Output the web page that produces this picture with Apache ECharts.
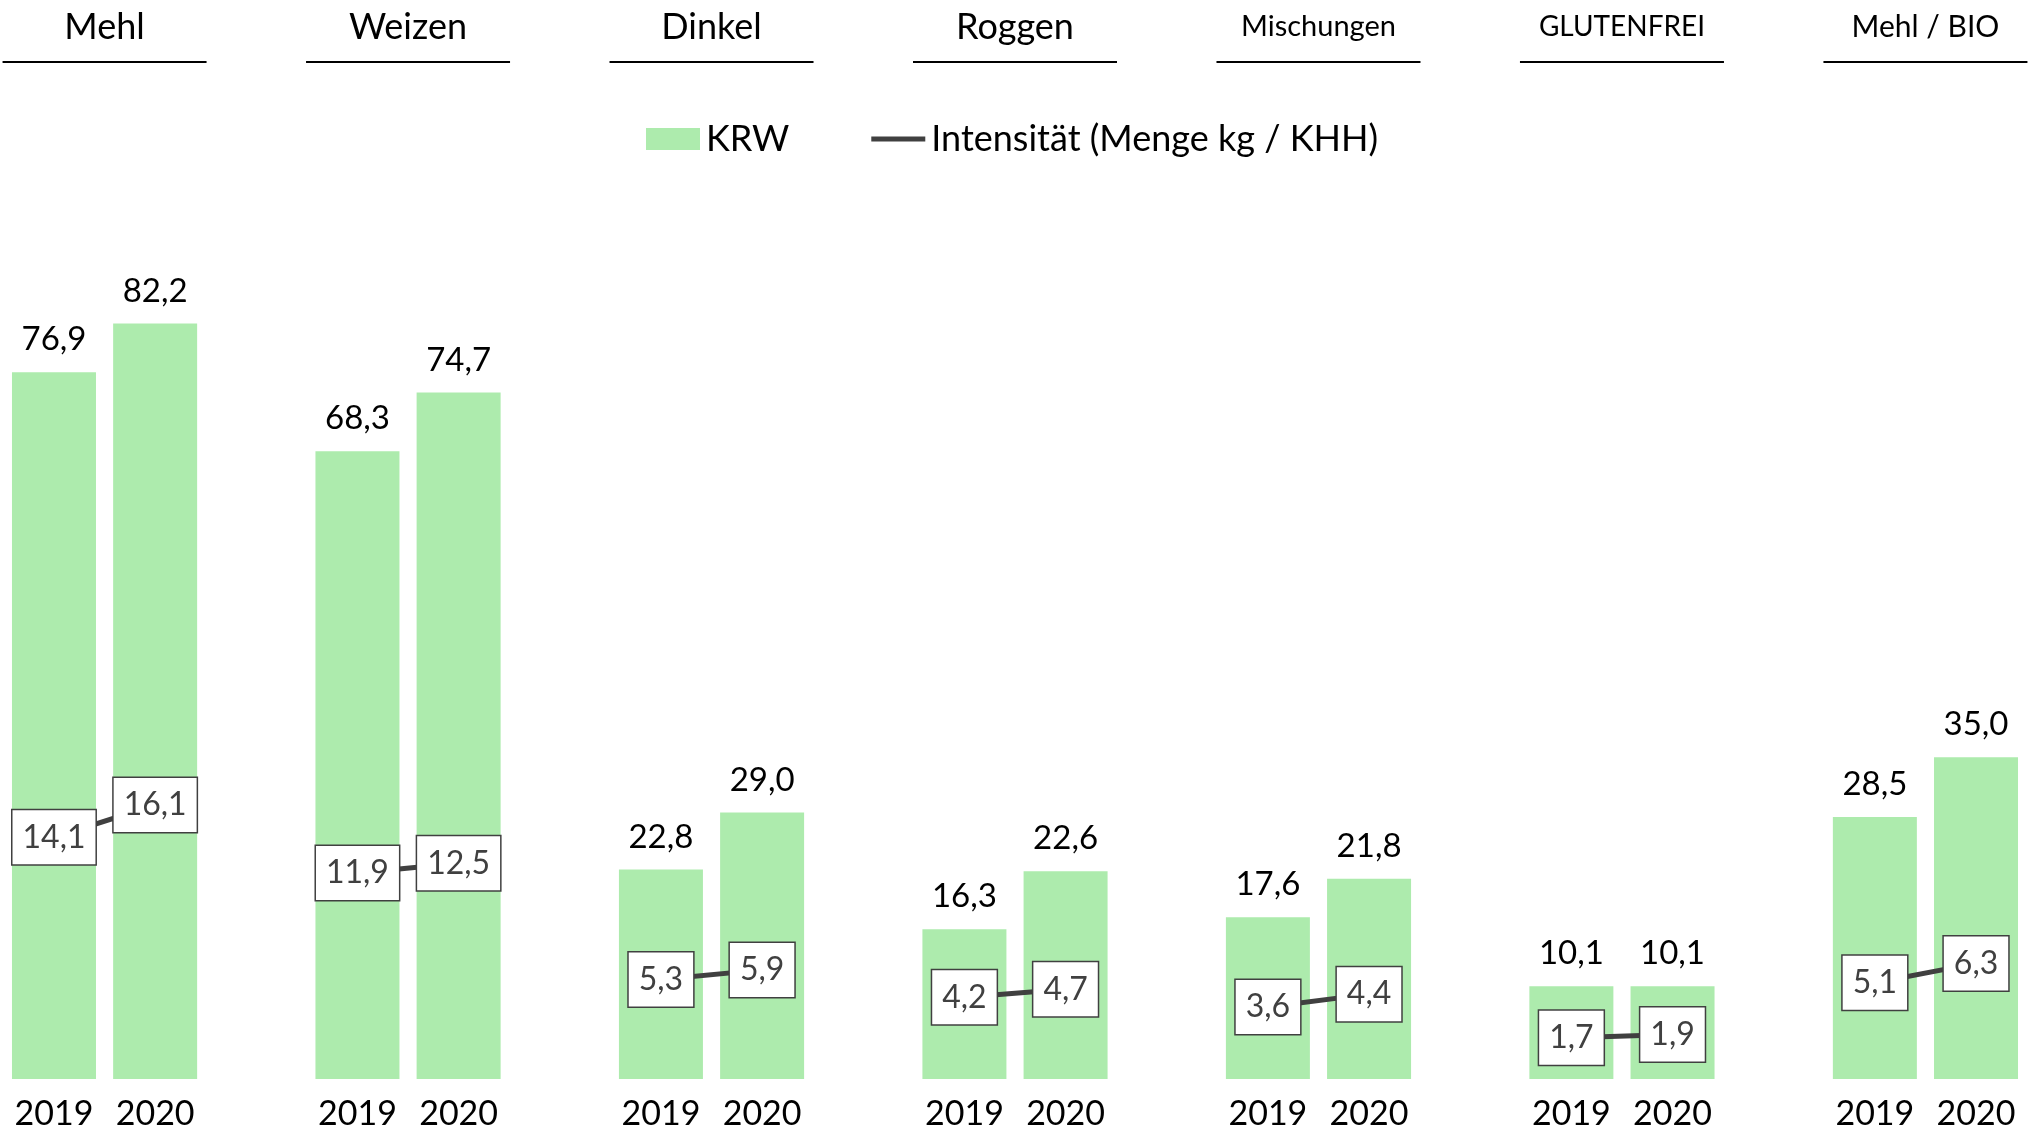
<!DOCTYPE html>
<html>
<head>
<meta charset="utf-8">
<script src="https://cdn.jsdelivr.net/npm/echarts@6/dist/echarts.min.js"></script>
<style>
  html, body { margin: 0; padding: 0; background: #ffffff; }
  #chart { width: 2034px; height: 1130px; }
</style>
</head>
<body>
<div id="chart"></div>
<script>
// Product groups and years
const groups = ['Mehl', 'Weizen', 'Dinkel', 'Roggen', 'Mischungen', 'GLUTENFREI', 'Mehl / BIO'];
const years = ['2019', '2020'];

// KRW (bars)
const krw2019 = [76.9, 68.3, 22.8, 16.3, 17.6, 10.1, 28.5];
const krw2020 = [82.2, 74.7, 29.0, 22.6, 21.8, 10.1, 35.0];

// Intensität (Menge kg / KHH) (line)
const int2019 = [14.1, 11.9, 5.3, 4.2, 3.6, 1.7, 5.1];
const int2020 = [16.1, 12.5, 5.9, 4.7, 4.4, 1.9, 6.3];

const seriesNames = ['KRW', 'Intensität (Menge kg / KHH)'];

// Header font sizes per group
const titleSizes = [36, 36, 36, 36, 29, 28, 30];

const FONT = 'Lato';
const fmt = v => Number(v).toFixed(1).replace('.', ',');

// One slot per year, plus an empty spacer slot between groups
const slots = [], barData = [], lineData = [];
groups.forEach((g, i) => {
  slots.push(years[0], years[1]);
  barData.push(krw2019[i], krw2020[i]);
  lineData.push(int2019[i], int2020[i]);
  if (i < groups.length - 1) {
    slots.push('');
    barData.push(null);
    lineData.push('-');
  }
});

const chart = echarts.init(document.getElementById('chart'), null, { renderer: 'canvas' });

const option = {
  animation: false,
  backgroundColor: '#ffffff',
  textStyle: { fontFamily: FONT },
  legend: {
    left: 641,
    top: 116,
    itemWidth: 54,
    itemHeight: 22,
    itemGap: 82,
    textStyle: { fontFamily: FONT, fontSize: 36, color: '#000000', padding: [0, 0, 0, 1] },
    data: [
      { name: seriesNames[0], icon: 'rect' },
      { name: seriesNames[1], icon: 'path://M0,0 H110 V10 H0 Z' }
    ]
  },
  grid: {
    left: 3.4,
    right: 7.4,
    top: 160,
    bottom: 51,
    containLabel: false,
    outerBoundsMode: 'none'
  },
  xAxis: {
    type: 'category',
    data: slots,
    axisLine: { show: false },
    axisTick: { show: false },
    splitLine: { show: false },
    axisLabel: {
      interval: 0,
      margin: 18,
      fontFamily: FONT,
      fontSize: 34,
      color: '#000000'
    }
  },
  yAxis: [
    { type: 'value', min: 0, max: 100, show: false, splitLine: { show: false } },
    { type: 'value', min: -0.85, max: 56, show: false, splitLine: { show: false } }
  ],
  series: [
    {
      name: seriesNames[0],
      type: 'bar',
      yAxisIndex: 0,
      barWidth: 84,
      data: barData,
      itemStyle: { color: '#ADEBAD' },
      label: {
        show: true,
        position: 'top',
        distance: 16,
        fontFamily: FONT,
        fontSize: 33,
        color: '#000000',
        formatter: p => fmt(p.value)
      },
      z: 2
    },
    {
      name: seriesNames[1],
      type: 'line',
      yAxisIndex: 1,
      data: lineData,
      connectNulls: false,
      symbol: 'circle',
      symbolSize: 2,
      itemStyle: { color: '#404040' },
      lineStyle: { color: '#404040', width: 5, cap: 'round' },
      label: {
        show: true,
        position: 'inside',
        fontFamily: FONT,
        fontSize: 32,
        lineHeight: 34,
        color: '#404040',
        backgroundColor: '#ffffff',
        borderColor: '#404040',
        borderWidth: 1.5,
        padding: [10, 10, 10, 10],
        formatter: p => fmt(p.value)
      },
      z: 5
    }
  ]
};

chart.setOption(option);

// Group headers with underline, centred over each pair of bars
const headers = [];
groups.forEach((g, i) => {
  const a = chart.convertToPixel({ xAxisIndex: 0 }, i * 3);
  const b = chart.convertToPixel({ xAxisIndex: 0 }, i * 3 + 1);
  const cx = (a + b) / 2;
  headers.push({
    type: 'text',
    x: cx,
    y: 27,
    style: {
      text: g,
      fontFamily: FONT,
      fontSize: titleSizes[i],
      fill: '#000000',
      align: 'center',
      verticalAlign: 'middle'
    }
  });
  headers.push({
    type: 'line',
    shape: { x1: cx - 102, y1: 62, x2: cx + 102, y2: 62 },
    style: { stroke: '#000000', lineWidth: 2 }
  });
});
chart.setOption({ graphic: headers });
</script>
</body>
</html>
